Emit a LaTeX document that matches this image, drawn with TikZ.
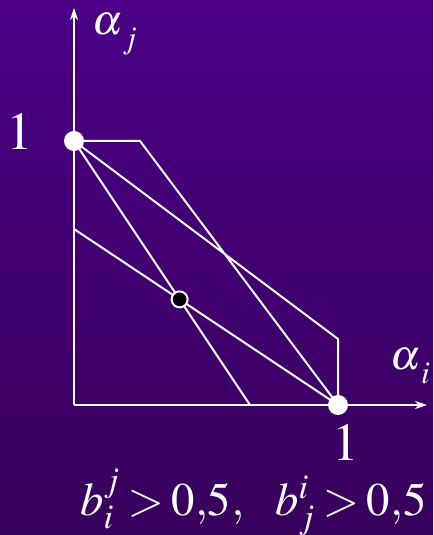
\documentclass[tikz,border=0pt]{standalone}
\usepackage{mathptmx}
\usepackage{xcolor}
\usetikzlibrary{arrows.meta, positioning, calc}

\definecolor{bgtop}{RGB}{75,0,134}
\definecolor{bgbottom}{RGB}{56,0,92}

\begin{document}
\begin{tikzpicture}[
    x=198pt, y=198pt,
    line/.style={white, line width=1.5pt},
    axis/.style={white, line width=1.5pt, -{Stealth[length=9pt, width=6pt]}},
    dot/.style={circle, fill=white, inner sep=0pt, minimum size=15pt},
    bigdot/.style={circle, fill=black, draw=white, line width=1.5pt, inner sep=0pt, minimum size=12pt},
    lbl/.style={text=white, font=\fontsize{40}{44}\selectfont, inner sep=0pt},
    axlbl/.style={text=white, font=\fontsize{32}{36}\selectfont, inner sep=0pt},
    cnd/.style={text=white, font=\fontsize{35}{40}\selectfont, inner sep=0pt}
]

% background
\shade[top color=bgtop, bottom color=bgbottom] (-0.2803,-0.4924) rectangle (1.3598,1.534);
\useasboundingbox (-0.2803,-0.4924) rectangle (1.3598,1.534);

\coordinate (O) at (0,0);
\coordinate (xend) at (1.337,0);
\coordinate (yend) at (0,1.504);
\coordinate (A) at (0,1);
\coordinate (B) at (1,0);
\coordinate (C) at (0.25,1);
\coordinate (D) at (1,0.25);
\coordinate (E) at (0,2/3);
\coordinate (F) at (2/3,0);
\coordinate (P) at (0.4,0.4);

% axes
\draw[axis] (O) -- (xend);
\draw[axis] (O) -- (yend);

% region and lines
\draw[line] (A) -- (C) -- (B) -- (D) -- cycle;
\draw[line] (A) -- (F);
\draw[line] (E) -- (B);

% points
\node[dot] (pa) at (A) {};
\node[dot] (pb) at (B) {};
\node[bigdot] (pp) at (P) {};

% labels
\node[lbl] (one1) at (-0.2045,1.036) {$1$};
\node[lbl] (one2) at (1.028,-0.142) {$1$};
\node[axlbl, anchor=base west] (aj) at (0.0682,1.4015) {$\alpha\lower5pt\hbox{$_j$}$};
\node[axlbl, anchor=base west] (ai) at (1.198,0.1326) {$\alpha\lower5pt\hbox{$_i$}$};
\node[cnd, anchor=base west] (cond) at (0.0227,-0.4167)
    {$b_i^j\mskip3mu{>}\mskip3mu0{,}5,\mskip10mu b_j^i\mskip3mu{>}\mskip3mu0{,}5$};

\end{tikzpicture}
\end{document}
